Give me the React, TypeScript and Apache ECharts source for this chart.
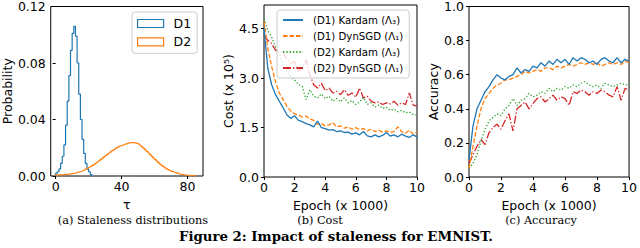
import React, { useEffect, useRef } from 'react';
import * as echarts from 'echarts';

// ---------- Panel (a): staleness histograms (unit bins starting at tau = 0) ----------
const d1Prob = [
  0.002, 0.003, 0.005, 0.009, 0.014, 0.022, 0.036, 0.053, 0.071, 0.089,
  0.101, 0.106, 0.099, 0.080, 0.058, 0.040, 0.026, 0.016, 0.009, 0.005,
  0.003, 0.001,
];
const d2Prob = [
  0.0007, 0.0008, 0.0008, 0.0009, 0.0010, 0.0011, 0.0012, 0.0013, 0.0015, 0.0017,
  0.0019, 0.0021, 0.0024, 0.0027, 0.0030, 0.0034, 0.0039, 0.0044, 0.0050, 0.0056,
  0.0062, 0.0068, 0.0075, 0.0083, 0.0091, 0.0099, 0.0108, 0.0117, 0.0126, 0.0135,
  0.0145, 0.0154, 0.0163, 0.0171, 0.0180, 0.0187, 0.0195, 0.0202, 0.0208, 0.0214,
  0.0219, 0.0224, 0.0228, 0.0231, 0.0234, 0.0236, 0.0237, 0.0236, 0.0233, 0.0229,
  0.0224, 0.0216, 0.0206, 0.0196, 0.0185, 0.0174, 0.0163, 0.0151, 0.0139, 0.0127,
  0.0116, 0.0105, 0.0094, 0.0084, 0.0075, 0.0066, 0.0058, 0.0051, 0.0045, 0.0039,
  0.0033, 0.0028, 0.0024, 0.0020, 0.0016, 0.0013, 0.0011, 0.0009, 0.0007, 0.0005,
  0.0004, 0.0003, 0.0002, 0.0002, 0.0001,
];
const tauTicks = [0, 40, 80];
const probTicks = [0, 0.04, 0.08, 0.12];

// ---------- Panels (b) and (c): epochs (x 1000) ----------
const epochs = [
  0, 0.25, 0.5, 0.75, 1, 1.25, 1.5, 1.75, 2, 2.25, 2.5, 2.75, 3, 3.25, 3.5, 3.75,
  4, 4.25, 4.5, 4.75, 5, 5.25, 5.5, 5.75, 6, 6.25, 6.5, 6.75, 7, 7.25, 7.5, 7.75,
  8, 8.25, 8.5, 8.75, 9, 9.25, 9.5, 9.75, 10,
];

const costD1Kardam = [
  4.50, 3.30, 2.80, 2.50, 2.30, 2.10, 1.88, 1.78, 1.86, 1.72, 1.68, 1.62, 1.58, 1.52, 1.70, 1.50,
  1.47, 1.42, 1.44, 1.38, 1.40, 1.35, 1.36, 1.30, 1.34, 1.28, 1.38, 1.25, 1.22, 1.28, 1.22, 1.26,
  1.35, 1.24, 1.28, 1.22, 1.30, 1.24, 1.20, 1.28, 1.22,
];
const costD1DynSGD = [
  4.72, 3.90, 3.35, 2.90, 2.55, 2.35, 2.15, 2.00, 1.92, 1.88, 1.82, 1.85, 1.76, 1.72, 1.60, 1.62,
  1.55, 1.58, 1.65, 1.52, 1.55, 1.48, 1.52, 1.45, 1.50, 1.44, 1.47, 1.40, 1.45, 1.38, 1.42, 1.36,
  1.40, 1.35, 1.38, 1.52, 1.38, 1.33, 1.42, 1.30, 1.36,
];
const costD2Kardam = [
  4.80, 4.45, 4.25, 3.95, 3.75, 3.40, 3.20, 3.05, 2.95, 2.80, 2.75, 2.35, 2.65, 2.45, 2.40, 2.52,
  2.38, 2.45, 2.30, 2.38, 2.28, 2.40, 2.25, 2.32, 2.20, 2.28, 2.42, 2.20, 2.25, 2.12, 2.18, 2.08,
  2.12, 2.02, 2.06, 1.98, 2.02, 1.95, 1.97, 1.90, 1.88,
];
const costD2DynSGD = [
  4.30, 4.15, 4.05, 3.85, 3.80, 3.78, 3.55, 3.45, 3.50, 3.20, 3.30, 3.55, 3.10, 2.80, 2.70, 2.85,
  2.62, 2.70, 2.55, 2.60, 2.50, 2.65, 2.48, 2.55, 2.42, 2.70, 2.40, 2.45, 2.30, 2.25, 2.28, 2.20,
  2.25, 2.22, 2.30, 2.18, 2.25, 2.20, 2.55, 2.18, 2.15,
];

const accD1Kardam = [
  0.10, 0.30, 0.40, 0.45, 0.50, 0.53, 0.57, 0.60, 0.58, 0.57, 0.59, 0.60, 0.64, 0.61, 0.63, 0.62,
  0.65, 0.64, 0.67, 0.65, 0.68, 0.66, 0.69, 0.67, 0.69, 0.66, 0.70, 0.68, 0.70, 0.69, 0.67, 0.68,
  0.66, 0.69, 0.70, 0.68, 0.67, 0.70, 0.67, 0.69, 0.68,
];
const accD1DynSGD = [
  0.05, 0.18, 0.30, 0.40, 0.46, 0.49, 0.52, 0.54, 0.55, 0.57, 0.57, 0.58, 0.59, 0.60, 0.62, 0.61,
  0.62, 0.63, 0.62, 0.64, 0.64, 0.63, 0.65, 0.64, 0.65, 0.66, 0.65, 0.66, 0.67, 0.66, 0.67, 0.66,
  0.67, 0.65, 0.66, 0.67, 0.66, 0.67, 0.66, 0.68, 0.67,
];
const accD2Kardam = [
  0.05, 0.08, 0.13, 0.21, 0.28, 0.33, 0.35, 0.37, 0.36, 0.40, 0.42, 0.46, 0.42, 0.45, 0.46, 0.49,
  0.47, 0.48, 0.50, 0.49, 0.52, 0.50, 0.52, 0.51, 0.53, 0.52, 0.54, 0.53, 0.55, 0.56, 0.54, 0.53,
  0.54, 0.52, 0.55, 0.54, 0.53, 0.54, 0.55, 0.54, 0.54,
];
const accD2DynSGD = [
  0.08, 0.13, 0.18, 0.22, 0.19, 0.26, 0.29, 0.31, 0.28, 0.33, 0.37, 0.27, 0.40, 0.42, 0.44, 0.40,
  0.43, 0.46, 0.47, 0.44, 0.46, 0.48, 0.45, 0.47, 0.46, 0.42, 0.50, 0.49, 0.51, 0.50, 0.48, 0.50,
  0.49, 0.51, 0.50, 0.48, 0.47, 0.53, 0.45, 0.52, 0.51,
];

const costTicks = [0, 1.5, 3.0, 4.5];
const seriesNames = [
  '(D1) Kardam (Λ₃)',
  '(D1) DynSGD (Λ₁)',
  '(D2) Kardam (Λ₃)',
  '(D2) DynSGD (Λ₁)',
];
const colors = ['#1f77b4', '#ff7f0e', '#2ca02c', '#d62728'];
const dashes: any[] = ['solid', [4.5, 2], [1.3, 2], [8, 2, 1.3, 2]];

const FONT = 'DejaVu Sans';

function stepOutline(vals: number[]) {
  const pts: number[][] = [[0, 0]];
  vals.forEach((v, i) => {
    pts.push([i, v]);
    pts.push([i + 1, v]);
  });
  pts.push([vals.length, 0]);
  return pts;
}

function pair(xs: number[], ys: number[]) {
  return xs.map((x, i) => [x, ys[i]]);
}

export default function App() {
  const ref = useRef<HTMLDivElement>(null);
  useEffect(() => {
    if (!ref.current) return;
    const chart = echarts.init(ref.current, undefined, { renderer: 'svg' });
    const tickLabel = { fontSize: 12.5, color: '#000', fontFamily: FONT };
    const nameStyle = { fontSize: 12.5, color: '#000', fontFamily: FONT };
    const baseX = (gridIndex: number, extra: any) => ({
      gridIndex,
      type: 'value',
      axisLine: { show: false },
      splitLine: { show: false },
      axisTick: { show: true, length: 3, lineStyle: { color: '#000', width: 1 } },
      axisLabel: { ...tickLabel, margin: 4 },
      nameLocation: 'middle',
      nameGap: 16,
      nameTextStyle: nameStyle,
      ...extra,
    });
    const baseY = (gridIndex: number, extra: any) => ({
      gridIndex,
      type: 'value',
      axisLine: { show: false },
      splitLine: { show: false },
      axisTick: { show: true, length: 3, lineStyle: { color: '#000', width: 1 } },
      axisLabel: { ...tickLabel, margin: 5 },
      nameLocation: 'middle',
      nameTextStyle: nameStyle,
      ...extra,
    });
    const costVals = [costD1Kardam, costD1DynSGD, costD2Kardam, costD2DynSGD];
    const accVals = [accD1Kardam, accD1DynSGD, accD2Kardam, accD2DynSGD];
    const lineSeries = (gi: number, vals: number[][]) =>
      vals.map((v, k) => ({
        type: 'line',
        name: seriesNames[k],
        xAxisIndex: gi,
        yAxisIndex: gi,
        data: pair(epochs, v),
        symbol: 'none',
        color: colors[k],
        lineStyle: { width: 1.3, type: dashes[k], color: colors[k] },
        z: 2 + (3 - k) * 0.1,
      }));

    const option: any = {
      animation: false,
      textStyle: { fontFamily: FONT },
      grid: [
        { left: 49, top: 5, width: 154, height: 171, show: true, borderColor: '#000', borderWidth: 1, backgroundColor: 'transparent' },
        { left: 264, top: 5, width: 153, height: 172, show: true, borderColor: '#000', borderWidth: 1, backgroundColor: 'transparent' },
        { left: 469, top: 6, width: 163, height: 171, show: true, borderColor: '#000', borderWidth: 1, backgroundColor: 'transparent' },
      ],
      xAxis: [
        baseX(0, {
          min: -3, max: 89.4, name: 'τ', nameGap: 15,
          axisTick: { show: true, length: 3, lineStyle: { color: '#000' }, customValues: tauTicks },
          axisLabel: { ...tickLabel, margin: 4, customValues: tauTicks },
        }),
        baseX(1, { min: 0, max: 10, interval: 2, name: 'Epoch (x 1000)' }),
        baseX(2, { min: 0, max: 10, interval: 2, name: 'Epoch (x 1000)' }),
      ],
      yAxis: [
        baseY(0, {
          min: 0, max: 0.12, name: 'Probability', nameGap: 35,
          axisTick: { show: true, length: 3, lineStyle: { color: '#000' }, customValues: probTicks },
          axisLabel: { ...tickLabel, margin: 5, customValues: probTicks, formatter: (v: number) => v.toFixed(2) },
        }),
        baseY(1, {
          min: 0, max: 5.22, name: 'Cost (x 10⁵)', nameGap: 27,
          axisTick: { show: true, length: 3, lineStyle: { color: '#000' }, customValues: costTicks },
          axisLabel: { ...tickLabel, margin: 5, customValues: costTicks, formatter: (v: number) => v.toFixed(1) },
        }),
        baseY(2, {
          min: 0, max: 1, interval: 0.2, name: 'Accuracy', nameGap: 25,
          axisLabel: { ...tickLabel, margin: 5, formatter: (v: number) => v.toFixed(1) },
        }),
      ],
      legend: [
        {
          data: [
            { name: 'D1', icon: 'rect', itemStyle: { color: 'rgba(0,0,0,0)', borderColor: colors[0], borderWidth: 1.2 } },
            { name: 'D2', icon: 'rect', itemStyle: { color: 'rgba(0,0,0,0)', borderColor: colors[1], borderWidth: 1.2 } },
          ],
          orient: 'vertical', left: 132, top: 12, padding: [4, 6, 4, 5],
          itemWidth: 26, itemHeight: 8, itemGap: 3.4, selectedMode: false,
          backgroundColor: 'rgba(255,255,255,0.8)', borderColor: '#cccccc', borderWidth: 1, borderRadius: 3,
          textStyle: { fontSize: 12.5, color: '#000', fontFamily: FONT, padding: [0, 0, 0, 5], lineHeight: 15 },
        },
        {
          data: seriesNames,
          orient: 'vertical', left: 277, top: 10, padding: [4, 6, 4, 5],
          itemWidth: 20, itemHeight: 10, itemGap: 4, selectedMode: false,
          itemStyle: { opacity: 0 },
          backgroundColor: 'rgba(255,255,255,0.8)', borderColor: '#cccccc', borderWidth: 1, borderRadius: 3,
          textStyle: { fontSize: 10.2, color: '#000', fontFamily: FONT, padding: [0, 0, 0, 5], lineHeight: 12 },
        },
      ],
      series: [
        {
          type: 'line', name: 'D1', xAxisIndex: 0, yAxisIndex: 0, data: stepOutline(d1Prob),
          symbol: 'none', color: colors[0], lineStyle: { width: 1.2, color: colors[0] },
        },
        {
          type: 'line', name: 'D2', xAxisIndex: 0, yAxisIndex: 0, data: stepOutline(d2Prob),
          symbol: 'none', color: colors[1], lineStyle: { width: 1.2, color: colors[1] },
        },
        ...lineSeries(1, costVals),
        ...lineSeries(2, accVals),
      ],
      graphic: [
        { type: 'text', x: 133, y: 220, style: { text: '(a) Staleness distributions', font: '11.3px "DejaVu Serif"', fill: '#000', align: 'center', verticalAlign: 'middle' } },
        { type: 'text', x: 320, y: 220, style: { text: '(b) Cost', font: '11.3px "DejaVu Serif"', fill: '#000', align: 'center', verticalAlign: 'middle' } },
        { type: 'text', x: 541, y: 220, style: { text: '(c) Accuracy', font: '11.3px "DejaVu Serif"', fill: '#000', align: 'center', verticalAlign: 'middle' } },
        { type: 'text', x: 336, y: 236, style: { text: 'Figure 2: Impact of staleness for EMNIST.', font: 'bold 13.3px "DejaVu Serif"', fill: '#000', align: 'center', verticalAlign: 'middle' } },
      ],
    };
    chart.setOption(option);
    return () => chart.dispose();
  }, []);
  return (
    <div
      ref={ref}
      style={{ position: 'absolute', left: 0, top: 0, width: 640, height: 248, background: '#fff' }}
    />
  );
}
